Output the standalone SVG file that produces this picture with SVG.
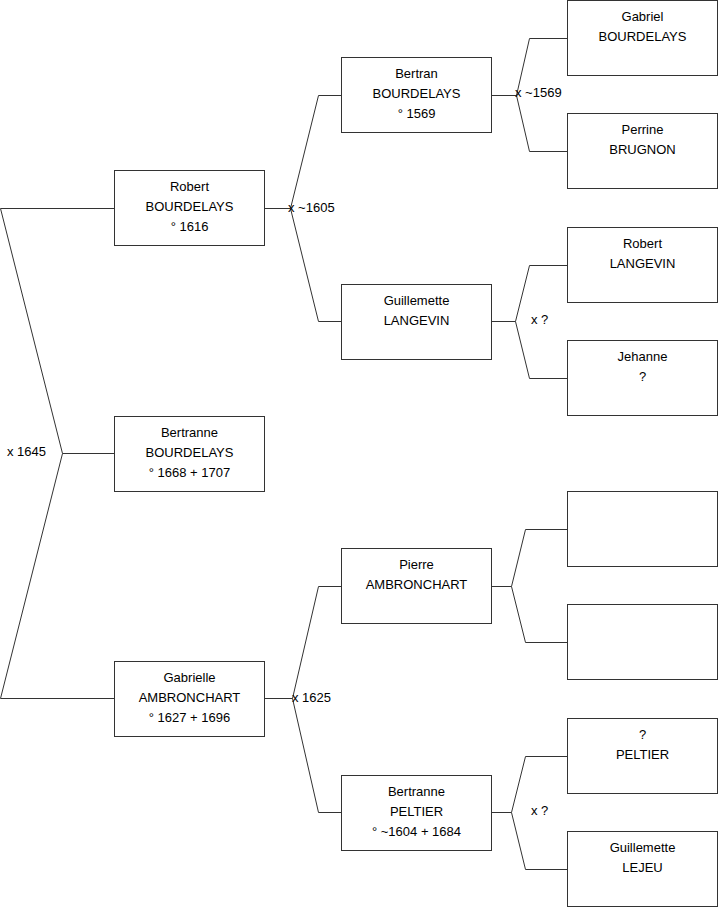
<svg xmlns="http://www.w3.org/2000/svg" width="719" height="908" viewBox="0 0 719 908">
<style>
.box{fill:#fff;stroke:#333;stroke-width:1}
.ln{fill:none;stroke:#333;stroke-width:1}
text{font-family:"Liberation Sans",Arial,sans-serif;font-size:13px;fill:#000}
.c{text-anchor:middle}
</style>
<rect width="719" height="908" fill="#fff"/>
<g id="connectors">
<polyline class="ln" points="114,208.5 0.5,208.5 62.5,453.5 0.5,698.5 114,698.5"/>
<line class="ln" x1="62.5" y1="453.5" x2="114" y2="453.5"/>
<text x="7" y="456">x 1645</text>
<polyline class="ln" points="265,208.5 290.5,208.5"/>
<polyline class="ln" points="341,95.5 318.5,95.5 290.5,208.5 318.5,321.5 341,321.5"/>
<text x="288" y="212">x ~1605</text>
<polyline class="ln" points="492,95.5 516.5,95.5"/>
<polyline class="ln" points="567,38.5 529.5,38.5 516.5,95.5 529.5,151.5 567,151.5"/>
<text x="515" y="97">x ~1569</text>
<polyline class="ln" points="492,321.5 515.5,321.5"/>
<polyline class="ln" points="567,265.5 529.5,265.5 515.5,321.5 529.5,378.5 567,378.5"/>
<text x="531" y="324">x ?</text>
<polyline class="ln" points="265,698.5 292.5,698.5"/>
<polyline class="ln" points="341,586.5 318.5,586.5 292.5,698.5 318.5,812.5 341,812.5"/>
<text x="292" y="702">x 1625</text>
<polyline class="ln" points="492,586.5 511.5,586.5"/>
<polyline class="ln" points="567,529.5 525.5,529.5 511.5,586.5 525.5,642.5 567,642.5"/>
<polyline class="ln" points="492,812.5 511.5,812.5"/>
<polyline class="ln" points="567,756.5 525.5,756.5 511.5,812.5 525.5,869.5 567,869.5"/>
<text x="531" y="815">x ?</text>
</g>
<g id="n1"><rect class="box" x="114.5" y="170.5" width="150" height="75"/><text class="c" x="189.5" y="191">Robert</text><text class="c" x="189.5" y="211">BOURDELAYS</text><text class="c" x="189.5" y="231">° 1616</text></g>
<g id="n2"><rect class="box" x="114.5" y="416.5" width="150" height="75"/><text class="c" x="189.5" y="437">Bertranne</text><text class="c" x="189.5" y="457">BOURDELAYS</text><text class="c" x="189.5" y="477">° 1668 + 1707</text></g>
<g id="n3"><rect class="box" x="114.5" y="661.5" width="150" height="75"/><text class="c" x="189.5" y="682">Gabrielle</text><text class="c" x="189.5" y="702">AMBRONCHART</text><text class="c" x="189.5" y="722">° 1627 + 1696</text></g>
<g id="n4"><rect class="box" x="341.5" y="57.5" width="150" height="75"/><text class="c" x="416.5" y="78">Bertran</text><text class="c" x="416.5" y="98">BOURDELAYS</text><text class="c" x="416.5" y="118">° 1569</text></g>
<g id="n5"><rect class="box" x="341.5" y="284.5" width="150" height="75"/><text class="c" x="416.5" y="305">Guillemette</text><text class="c" x="416.5" y="325">LANGEVIN</text></g>
<g id="n6"><rect class="box" x="341.5" y="548.5" width="150" height="75"/><text class="c" x="416.5" y="569">Pierre</text><text class="c" x="416.5" y="589">AMBRONCHART</text></g>
<g id="n7"><rect class="box" x="341.5" y="775.5" width="150" height="75"/><text class="c" x="416.5" y="796">Bertranne</text><text class="c" x="416.5" y="816">PELTIER</text><text class="c" x="416.5" y="836">° ~1604 + 1684</text></g>
<g id="n8"><rect class="box" x="567.5" y="0.5" width="150" height="75"/><text class="c" x="642.5" y="21">Gabriel</text><text class="c" x="642.5" y="41">BOURDELAYS</text></g>
<g id="n9"><rect class="box" x="567.5" y="113.5" width="150" height="75"/><text class="c" x="642.5" y="134">Perrine</text><text class="c" x="642.5" y="154">BRUGNON</text></g>
<g id="n10"><rect class="box" x="567.5" y="227.5" width="150" height="75"/><text class="c" x="642.5" y="248">Robert</text><text class="c" x="642.5" y="268">LANGEVIN</text></g>
<g id="n11"><rect class="box" x="567.5" y="340.5" width="150" height="75"/><text class="c" x="642.5" y="361">Jehanne</text><text class="c" x="642.5" y="381">?</text></g>
<g id="n12"><rect class="box" x="567.5" y="491.5" width="150" height="75"/></g>
<g id="n13"><rect class="box" x="567.5" y="604.5" width="150" height="75"/></g>
<g id="n14"><rect class="box" x="567.5" y="718.5" width="150" height="75"/><text class="c" x="642.5" y="739">?</text><text class="c" x="642.5" y="759">PELTIER</text></g>
<g id="n15"><rect class="box" x="567.5" y="831.5" width="150" height="75"/><text class="c" x="642.5" y="852">Guillemette</text><text class="c" x="642.5" y="872">LEJEU</text></g>
</svg>
